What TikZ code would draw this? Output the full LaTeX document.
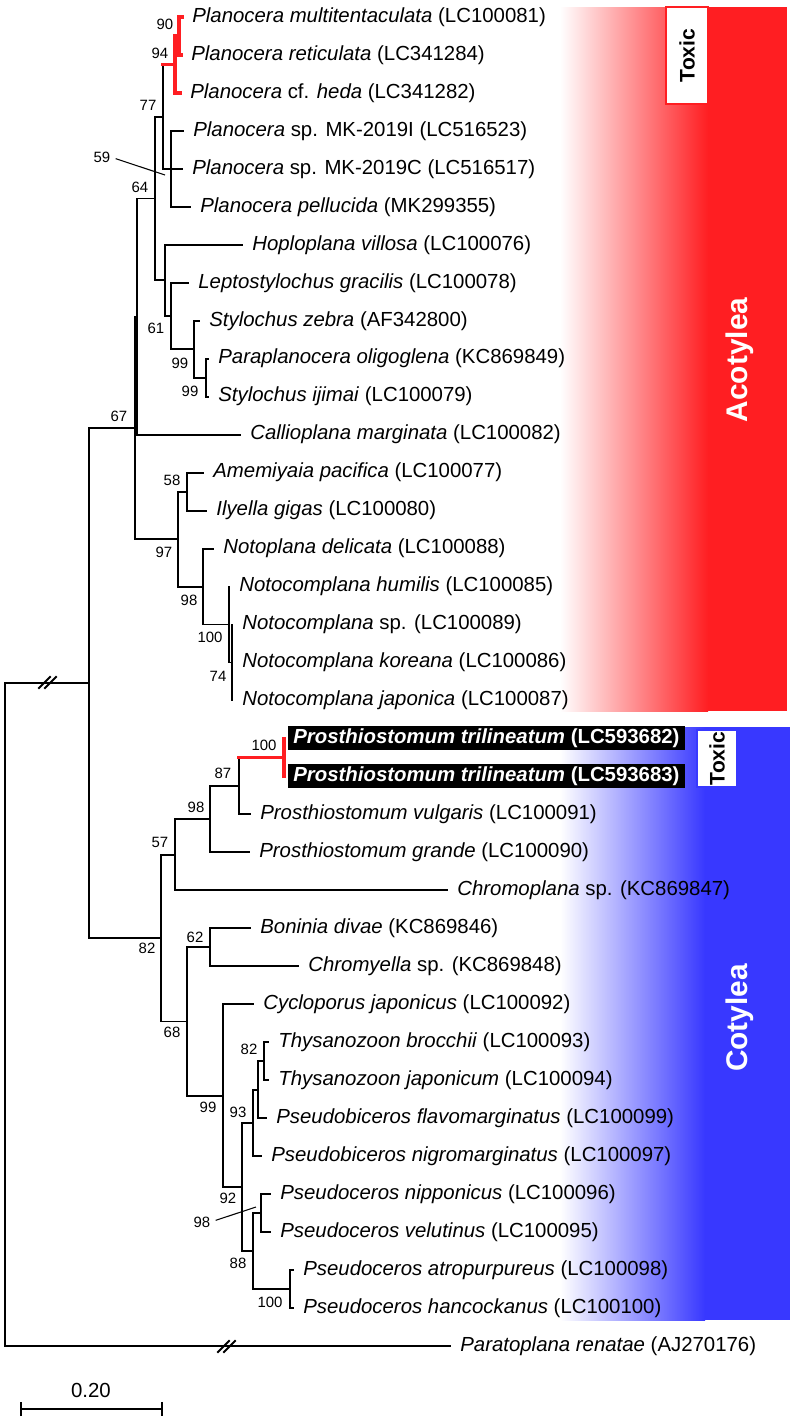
\documentclass[tikz,border=0pt]{standalone}
\usepackage{fontspec}
\setmainfont{Liberation Sans}
\usepackage{tikz}
\usetikzlibrary{arrows.meta,positioning}
\definecolor{acored}{RGB}{255,30,34}
\definecolor{cotblue}{RGB}{56,56,255}
\tikzset{
  branch/.style={line width=1.1pt, line cap=rect},
  toxbranch/.style={line width=2pt, draw=acored, line cap=rect},
  taxon/.style={font=\fontsize{11.6}{14}\selectfont, inner sep=0pt},
  toxtaxon/.style={font=\fontsize{11.6}{14}\selectfont\bfseries, fill=black, text=white,
                   inner xsep=0.1cm, inner ysep=0pt, minimum height=0.48cm},
  bs/.style={font=\fontsize{8.5}{10}\selectfont, inner sep=0pt},
  grp/.style={font=\fontsize{17}{20}\selectfont\bfseries, text=white, rotate=90},
  toxlabel/.style={fill=white, font=\fontsize{12}{14}\selectfont\bfseries, rotate=90,
                   inner sep=0pt, line width=0.6pt},
  lead/.style={line width=0.6pt},
}

\begin{document}
\begin{tikzpicture}[x=0.02cm, y=-0.02cm]
  \useasboundingbox (0,0) rectangle (790,1420);
  % clade bands
  \shade[left color=white, right color=acored] (560,7) rectangle (708,711);
  \fill[acored] (708,7) rectangle (787,711);
  \shade[left color=white, right color=cotblue] (560,727) rectangle (705,1320);
  \fill[cotblue] (705,727) rectangle (790,1320);
  \node[grp] (acolbl) at (740,360) {Acotylea};
  \node[grp] (cotlbl) at (740,1018) {Cotylea};
  \node[toxlabel, draw=acored, minimum width=1.94cm, minimum height=0.84cm] (tox1) at (687,55.5) {Toxic};
  \node[toxlabel, draw=cotblue, minimum width=1.14cm, minimum height=0.8cm] (tox2) at (717,758.5) {Toxic};

  % tips
  \coordinate (t1) at (182,17.0);   \coordinate (t2) at (181,55.0);
  \coordinate (t3) at (180,92.9);   \coordinate (t4) at (183,130.9);
  \coordinate (t5) at (182,168.9);  \coordinate (t6) at (190,206.9);
  \coordinate (t7) at (242,244.8);  \coordinate (t8) at (188,282.8);
  \coordinate (t9) at (199,320.8);  \coordinate (t10) at (208,358.7);
  \coordinate (t11) at (208,396.7); \coordinate (t12) at (240,434.7);
  \coordinate (t13) at (203,472.6); \coordinate (t14) at (206,510.6);
  \coordinate (t15) at (213,548.6); \coordinate (t16) at (229,586.6);
  \coordinate (t17) at (232,624.5); \coordinate (t18) at (232,662.5);
  \coordinate (t19) at (232,700.5); \coordinate (t20) at (284,738.4);
  \coordinate (t21) at (284,776.4); \coordinate (t22) at (250,814.4);
  \coordinate (t23) at (249,852.3); \coordinate (t24) at (447,890.3);
  \coordinate (t25) at (250,928.3); \coordinate (t26) at (298,966.2);
  \coordinate (t27) at (253,1004.2); \coordinate (t28) at (268,1042.2);
  \coordinate (t29) at (268,1080.2); \coordinate (t30) at (266,1118.1);
  \coordinate (t31) at (261,1156.1); \coordinate (t32) at (270,1194.1);
  \coordinate (t33) at (270,1232.0); \coordinate (t34) at (293,1270.0);
  \coordinate (t35) at (293,1308.0); \coordinate (t36) at (450,1346.0);

  % internal nodes
  \coordinate (a90) at (179,36);     \coordinate (a94) at (175,64.5);
  \coordinate (a59) at (171,168.9);  \coordinate (a77) at (163,116.7);
  \coordinate (a99b) at (206,377.7); \coordinate (a99a) at (194,349.2);
  \coordinate (a61) at (171,316);    \coordinate (ahop) at (165,280.4);
  \coordinate (a64) at (155,198.5);  \coordinate (acal) at (137,316.6);
  \coordinate (a58) at (187,491.6);  \coordinate (a74) at (232,662.5);
  \coordinate (a100) at (229,624.5); \coordinate (a98) at (203,586.6);
  \coordinate (a97) at (178,539.1);  \coordinate (acot) at (135,427.9);
  \coordinate (c100a) at (284,757.4); \coordinate (c87) at (239,785.9);
  \coordinate (c98a) at (210,819.1); \coordinate (c57) at (175,854.7);
  \coordinate (c62) at (210,947.3);  \coordinate (c82b) at (264,1061.2);
  \coordinate (cthy) at (258,1089.7); \coordinate (c93) at (253,1122.9);
  \coordinate (c98b) at (261,1213.1); \coordinate (c100b) at (290,1289);
  \coordinate (c88) at (253,1251.1); \coordinate (c92) at (242,1187);
  \coordinate (c99) at (223,1095.6); \coordinate (c68) at (187,1021.5);
  \coordinate (cot) at (161,938.1);  \coordinate (ingr) at (89,683);
  \coordinate (root) at (5,1014.5);

  % branches
  \draw[branch] (root) |- (ingr) (root) |- (t36);
  \draw[branch] (ingr) |- (acot) (ingr) |- (cot);
  \draw[branch] (acot) |- (acal) (acot) |- (a97);
  \draw[branch] (acal) |- (a64) (acal) |- (t12);
  \draw[branch] (a64) |- (a77) (a64) |- (ahop);
  \draw[branch] (a77) -- (a77 |- a94) (a77) |- (a59);
  \draw[branch] (a59) |- (t4) (a59) |- (t5) (a59) |- (t6);
  \draw[toxbranch] (a77 |- a94) -- (a94);
  \draw[toxbranch] (a94) |- (a90) (a94) |- (t3) (a90) |- (t1) (a90) |- (t2);
  \draw[branch] (ahop) |- (t7) (ahop) |- (a61);
  \draw[branch] (a61) |- (t8) (a61) |- (a99a);
  \draw[branch] (a99a) |- (t9) (a99a) |- (a99b);
  \draw[branch] (a99b) |- (t10) (a99b) |- (t11);
  \draw[branch] (a97) |- (a58) (a97) |- (a98);
  \draw[branch] (a58) |- (t13) (a58) |- (t14);
  \draw[branch] (a98) |- (t15) (a98) |- (a100);
  \draw[branch] (a100) |- (t16) (a100) |- (a74);
  \draw[branch] (a74) |- (t17) (a74) |- (t18) (a74) |- (t19);
  \draw[branch] (cot) |- (c57) (cot) |- (c68);
  \draw[branch] (c57) |- (c98a) (c57) |- (t24);
  \draw[branch] (c98a) |- (c87) (c98a) |- (t23);
  \draw[branch] (c87) -- (c87 |- c100a) (c87) |- (t22);
  \draw[toxbranch] (c87 |- c100a) -- (c100a) (c100a) |- (t20) (c100a) |- (t21);
  \draw[branch] (c68) |- (c62) (c68) |- (c99);
  \draw[branch] (c62) |- (t25) (c62) |- (t26);
  \draw[branch] (c99) |- (t27) (c99) |- (c92);
  \draw[branch] (c92) |- (c93) (c92) |- (c88);
  \draw[branch] (c93) |- (cthy) (c93) |- (t31);
  \draw[branch] (cthy) |- (c82b) (cthy) |- (t30);
  \draw[branch] (c82b) |- (t28) (c82b) |- (t29);
  \draw[branch] (c88) |- (c98b) (c88) |- (c100b);
  \draw[branch] (c98b) |- (t32) (c98b) |- (t33);
  \draw[branch] (c100b) |- (t34) (c100b) |- (t35);
  % breaks on long branches
  \draw[branch] (39,688) -- (50,677) (45,688) -- (56,677);
  \draw[branch] (218,1352) -- (229,1341) (224,1352) -- (235,1341);

  % taxon labels
  \node[taxon, right=2mm of t1] (l1) {\textit{Planocera multitentaculata} (LC100081)};
  \node[taxon, right=2mm of t2] (l2) {\textit{Planocera reticulata} (LC341284)};
  \node[taxon, right=2mm of t3] (l3) {\textit{Planocera} cf. \textit{heda} (LC341282)};
  \node[taxon, right=2mm of t4] (l4) {\textit{Planocera} sp. MK-2019I (LC516523)};
  \node[taxon, right=2mm of t5] (l5) {\textit{Planocera} sp. MK-2019C (LC516517)};
  \node[taxon, right=2mm of t6] (l6) {\textit{Planocera pellucida} (MK299355)};
  \node[taxon, right=2mm of t7] (l7) {\textit{Hoploplana villosa} (LC100076)};
  \node[taxon, right=2mm of t8] (l8) {\textit{Leptostylochus gracilis} (LC100078)};
  \node[taxon, right=2mm of t9] (l9) {\textit{Stylochus zebra} (AF342800)};
  \node[taxon, right=2mm of t10] (l10) {\textit{Paraplanocera oligoglena} (KC869849)};
  \node[taxon, right=2mm of t11] (l11) {\textit{Stylochus ijimai} (LC100079)};
  \node[taxon, right=2mm of t12] (l12) {\textit{Callioplana marginata} (LC100082)};
  \node[taxon, right=2mm of t13] (l13) {\textit{Amemiyaia pacifica} (LC100077)};
  \node[taxon, right=2mm of t14] (l14) {\textit{Ilyella gigas} (LC100080)};
  \node[taxon, right=2mm of t15] (l15) {\textit{Notoplana delicata} (LC100088)};
  \node[taxon, right=2mm of t16] (l16) {\textit{Notocomplana humilis} (LC100085)};
  \node[taxon, right=2mm of t17] (l17) {\textit{Notocomplana} sp. (LC100089)};
  \node[taxon, right=2mm of t18] (l18) {\textit{Notocomplana koreana} (LC100086)};
  \node[taxon, right=2mm of t19] (l19) {\textit{Notocomplana japonica} (LC100087)};
  \node[toxtaxon, right=0.08cm of t20] (l20) {\textit{Prosthiostomum trilineatum} (LC593682)};
  \node[toxtaxon, right=0.08cm of t21] (l21) {\textit{Prosthiostomum trilineatum} (LC593683)};
  \node[taxon, right=2mm of t22] (l22) {\textit{Prosthiostomum vulgaris} (LC100091)};
  \node[taxon, right=2mm of t23] (l23) {\textit{Prosthiostomum grande} (LC100090)};
  \node[taxon, right=2mm of t24] (l24) {\textit{Chromoplana} sp. (KC869847)};
  \node[taxon, right=2mm of t25] (l25) {\textit{Boninia divae} (KC869846)};
  \node[taxon, right=2mm of t26] (l26) {\textit{Chromyella} sp. (KC869848)};
  \node[taxon, right=2mm of t27] (l27) {\textit{Cycloporus japonicus} (LC100092)};
  \node[taxon, right=2mm of t28] (l28) {\textit{Thysanozoon brocchii} (LC100093)};
  \node[taxon, right=2mm of t29] (l29) {\textit{Thysanozoon japonicum} (LC100094)};
  \node[taxon, right=2mm of t30] (l30) {\textit{Pseudobiceros flavomarginatus} (LC100099)};
  \node[taxon, right=2mm of t31] (l31) {\textit{Pseudobiceros nigromarginatus} (LC100097)};
  \node[taxon, right=2mm of t32] (l32) {\textit{Pseudoceros nipponicus} (LC100096)};
  \node[taxon, right=2mm of t33] (l33) {\textit{Pseudoceros velutinus} (LC100095)};
  \node[taxon, right=2mm of t34] (l34) {\textit{Pseudoceros atropurpureus} (LC100098)};
  \node[taxon, right=2mm of t35] (l35) {\textit{Pseudoceros hancockanus} (LC100100)};
  \node[taxon, right=2mm of t36] (l36) {\textit{Paratoplana renatae} (AJ270176)};

  % bootstrap values
  \node[bs] (b90) at (165,24) {90};
  \node[bs] (b94) at (160,53) {94};
  \node[bs] (b77) at (148,105) {77};
  \node[bs] (b59) at (102,157) {59};
  \node[bs] (b64) at (140,187) {64};
  \node[bs] (b61) at (156,328) {61};
  \node[bs] (b99a) at (180,363) {99};
  \node[bs] (b99b) at (190,391) {99};
  \node[bs] (b67) at (119,416) {67};
  \node[bs] (b58) at (172,480) {58};
  \node[bs] (b97) at (164,552) {97};
  \node[bs] (b98a) at (189,600) {98};
  \node[bs] (b100a) at (210,637) {100};
  \node[bs] (b74) at (218,676) {74};
  \node[bs] (b100b) at (264,745) {100};
  \node[bs] (b87) at (223,773) {87};
  \node[bs] (b98b) at (196,807) {98};
  \node[bs] (b57) at (160,842) {57};
  \node[bs] (b82a) at (147,948) {82};
  \node[bs] (b62) at (195,937) {62};
  \node[bs] (b68) at (172,1032) {68};
  \node[bs] (b82b) at (249,1049) {82};
  \node[bs] (b99c) at (208,1107) {99};
  \node[bs] (b93) at (238,1112) {93};
  \node[bs] (b92) at (228,1198) {92};
  \node[bs] (b98c) at (202,1222) {98};
  \node[bs] (b88) at (238,1263) {88};
  \node[bs] (b100c) at (270,1302) {100};
  \coordinate (p59) at (165,175);
  \coordinate (p98) at (256,1207);
  \draw[lead, shorten <=3pt] (b59.east) -- (p59);
  \draw[lead, shorten <=3pt] (b98c.east) -- (p98);

  % scale bar
  \coordinate (sb0) at (20,1409);
  \coordinate (sb1) at (163,1409);
  \draw[branch, line cap=butt, {Bar[width=8pt]}-{Bar[width=8pt]}] (sb0) -- (sb1);
  \node[taxon] (sblbl) at (91,1390) {0.20};
\end{tikzpicture}
\end{document}
